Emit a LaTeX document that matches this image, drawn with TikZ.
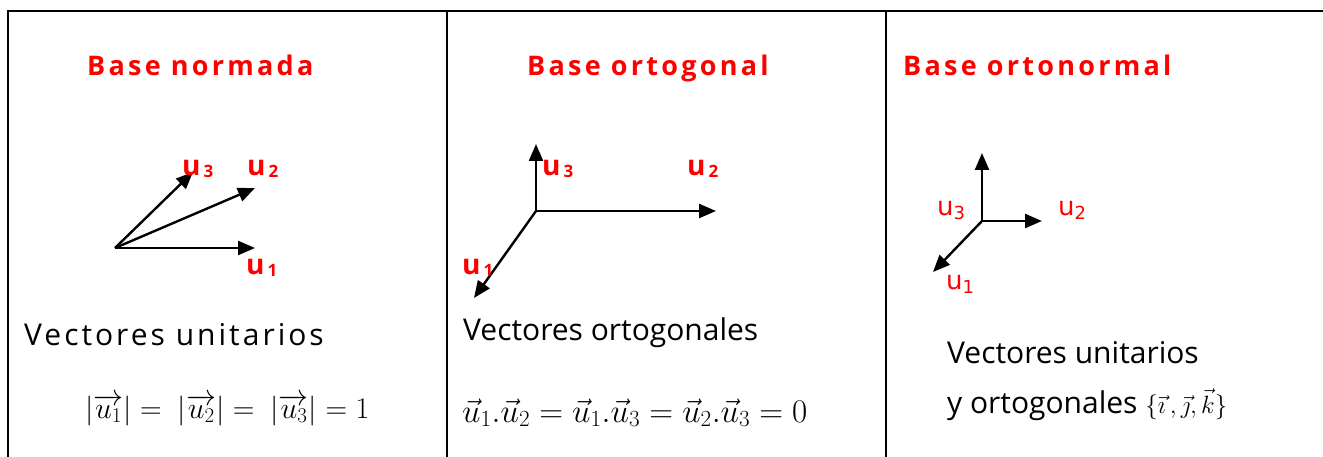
\IfFileExists{fix-cm.sty}{\RequirePackage{fix-cm}}{}
\documentclass[tikz,border=0pt]{standalone}
\usepackage{amsmath}
\usepackage{fontspec}
\setmainfont{Open Sans}
\newfontfamily\titlefont[LetterSpace=12]{Open Sans}
\newfontfamily\spacedfont[LetterSpace=10]{Open Sans}
\newfontfamily\lblfont{DejaVu Sans}
\usetikzlibrary{arrows.meta,positioning}

% red label u with its index
\newcommand\ulbl[1]{u\kern3pt\raisebox{-2pt}{\fontsize{17}{20}\selectfont#1}}
\newcommand\uthin[1]{u\raisebox{-4pt}{\fontsize{18}{20}\selectfont#1}}

\begin{document}
\begin{tikzpicture}[x=1pt,y=-1pt,
  grid/.style={line width=1.6pt, black},
  vec/.style={-{Triangle[length=17pt,width=14pt]}, line width=2.4pt},
  title/.style={anchor=base west, inner sep=0pt, text=red, font=\titlefont\bfseries\fontsize{27}{32}\selectfont},
  boldlbl/.style={anchor=base west, inner sep=0pt, text=red, font=\bfseries\fontsize{28}{32}\selectfont},
  thinlbl/.style={anchor=base west, inner sep=0pt, text=red, font=\lblfont\fontsize{26}{30}\selectfont},
  txt/.style={anchor=base west, inner sep=0pt, font=\fontsize{30}{36}\selectfont},
  mathtxt/.style={anchor=base west, inner sep=0pt, font=\fontsize{30}{36}\selectfont}]
\useasboundingbox (0,0) rectangle (1323,457);
% table lines
\draw[grid] (8,457) -- (8,11) -- (1323,11);
\foreach \x in {447,886} \draw[grid] (\x,11) -- (\x,457);

% normada
\node[title] (t1) at (87,76) {Base normada};
\coordinate (n0) at (115,248);
\coordinate (n1) at (255,248);
\coordinate (n2) at (255,188);
\coordinate (n3) at (193,172);
\foreach \v in {1,2,3} \draw[vec] (n0) -- (n\v);
\node[boldlbl] (ln1) at (246,274) {\ulbl{1}};
\node[boldlbl] (ln2) at (247,176) {\ulbl{2}};
\node[boldlbl] (ln3) at (182,176) {\ulbl{3}};
\node[txt, font=\spacedfont\fontsize{30}{36}\selectfont] (d1) at (24,345) {Vectores unitarios};
\node[mathtxt] (m1) at (85,418) {$|\overrightarrow{u_1}| =\ |\overrightarrow{u_2}| =\ |\overrightarrow{u_3}| = 1$};

% ortogonal
\node[title] (t2) at (527,76) {Base ortogonal};
\coordinate (g0) at (536,211);
\coordinate (g1) at (474,298);
\coordinate (g2) at (716,211);
\coordinate (g3) at (536,144);
\foreach \v in {1,2,3} \draw[vec] (g0) -- (g\v);
\node[boldlbl] (lg1) at (462,274) {\ulbl{1}};
\node[boldlbl] (lg2) at (687,176) {\ulbl{2}};
\node[boldlbl] (lg3) at (542,176) {\ulbl{3}};
\node[txt] (d2) at (463,340) {Vectores ortogonales};
\node[mathtxt, font=\fontsize{33}{38}\selectfont] (m2) at (462,422) {$\vec{u}_1.\vec{u}_2=\vec{u}_1.\vec{u}_3=\vec{u}_2.\vec{u}_3=0$};

% ortonormal
\node[title] (t3) at (903,76) {Base ortonormal};
\coordinate (o0) at (982,221);
\coordinate (o1) at (933,272);
\coordinate (o2) at (1042,221);
\coordinate (o3) at (982,153);
\foreach \v in {1,2,3} \draw[vec] (o0) -- (o\v);
\node[thinlbl] (lo1) at (946,290) {\uthin{1}};
\node[thinlbl] (lo2) at (1058,216) {\uthin{2}};
\node[thinlbl] (lo3) at (937,216) {\uthin{3}};
\node[txt] (d3) at (947,363) {Vectores unitarios};
\node[txt] (d4) at (947,413) {y ortogonales {\fontsize{25}{30}\selectfont$\{\vec{\imath}\,,\vec{\jmath},\vec{k}\}$}};
\end{tikzpicture}
\end{document}
